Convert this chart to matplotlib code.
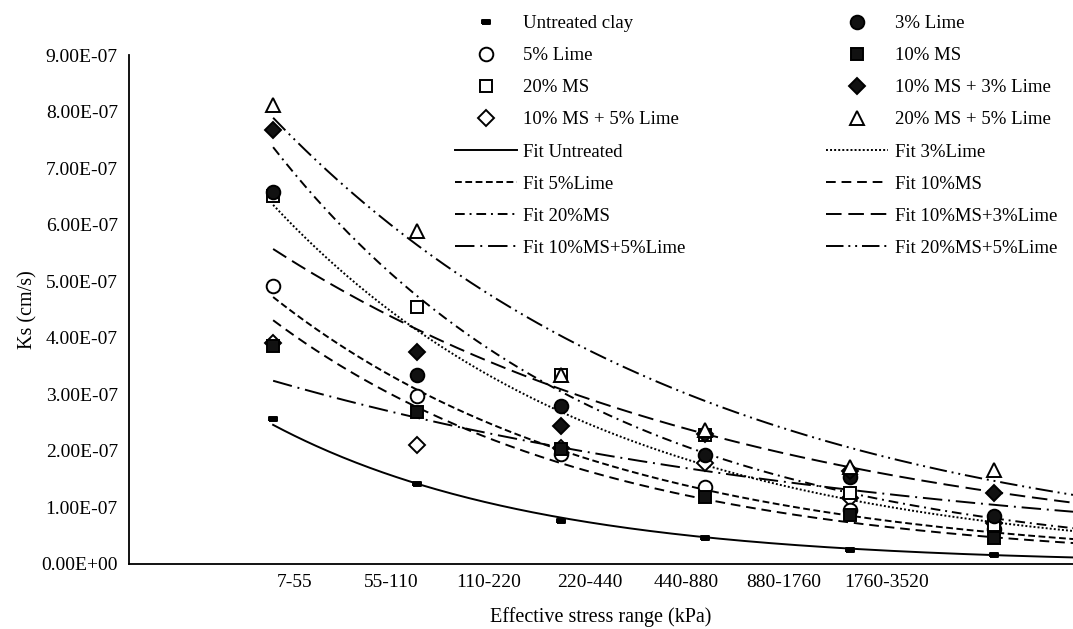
import numpy as np
import matplotlib
matplotlib.use("Agg")
from matplotlib import pyplot as plt
from matplotlib.ticker import FuncFormatter

# stage positions of the measured points (one per loading step)
x_pos = [1, 2, 3, 4, 5, 6]
stress_labels = ["7-55", "55-110", "110-220", "220-440", "440-880", "880-1760", "1760-3520"]

# measured Ks (cm/s)
ks_untreated = [2.56e-7, 1.41e-7, 0.76e-7, 0.46e-7, 0.25e-7, 0.16e-7]
ks_3lime = [6.58e-7, 3.34e-7, 2.79e-7, 1.93e-7, 1.54e-7, 0.85e-7]
ks_5lime = [4.92e-7, 2.97e-7, 1.95e-7, 1.36e-7, 0.95e-7, 0.62e-7]
ks_10ms = [3.85e-7, 2.69e-7, 2.03e-7, 1.18e-7, 0.87e-7, 0.46e-7]
ks_20ms = [6.50e-7, 4.54e-7, 3.34e-7, 2.28e-7, 1.26e-7, 0.69e-7]
ks_10ms_3lime = [7.67e-7, 3.75e-7, 2.44e-7, 2.30e-7, 1.65e-7, 1.26e-7]
ks_10ms_5lime = [3.90e-7, 2.10e-7, 2.05e-7, 1.79e-7, 1.17e-7, 0.72e-7]
ks_20ms_5lime = [8.12e-7, 5.89e-7, 3.34e-7, 2.37e-7, 1.72e-7, 1.66e-7]

# exponential fits Ks = a * exp(-b * (x - 1))
fit_a = [2.46e-7, 6.35e-7, 4.72e-7, 4.31e-7, 7.37e-7, 5.57e-7, 3.24e-7, 7.89e-7]
fit_b = [0.55, 0.43, 0.427, 0.442, 0.442, 0.295, 0.226, 0.336]
fit_names = ["Fit Untreated", "Fit 3%Lime", "Fit 5%Lime", "Fit 10%MS", "Fit 20%MS",
             "Fit 10%MS+3%Lime", "Fit 10%MS+5%Lime", "Fit 20%MS+5%Lime"]

plt.rcParams["font.family"] = ["Liberation Serif", "DejaVu Serif"]
plt.rcParams["font.size"] = 14

fig = plt.figure(figsize=(10.73, 6.29), dpi=100)
ax = fig.add_axes([129 / 1073, 65 / 629, 944 / 1073, 509 / 629])

XMAX = 6.55
rect = [(-1, -0.45), (1, -0.45), (1, 0.45), (-1, 0.45), (-1, -0.45)]

series = [
    ("Untreated clay", ks_untreated, dict(marker=rect, ms=5.5, mfc="black"), 5),
    ("3% Lime", ks_3lime, dict(marker="o", ms=9.8, mfc="#111111"), 6),
    ("5% Lime", ks_5lime, dict(marker="o", ms=9.8, mfc="white"), 5),
    ("10% MS", ks_10ms, dict(marker="s", ms=9.3, mfc="#111111"), 6),
    ("20% MS", ks_20ms, dict(marker="s", ms=9.3, mfc="white"), 5),
    ("10% MS + 3% Lime", ks_10ms_3lime, dict(marker="D", ms=8.3, mfc="#111111"), 6),
    ("10% MS + 5% Lime", ks_10ms_5lime, dict(marker="D", ms=8.3, mfc="white"), 4),
    ("20% MS + 5% Lime", ks_20ms_5lime, dict(marker="^", ms=10.3, mfc="white"), 7),
]

styles = [
    "-",
    (0, (1, 1.1)),
    (0, (3.5, 1.8)),
    (0, (5, 3)),
    (0, (5, 2.5, 1, 2.5)),
    (0, (8, 3.5)),
    (0, (10, 3, 1, 3)),
    (0, (9, 2.5, 1, 2.5, 1, 2.5)),
]

xs = np.linspace(1, XMAX, 300)
fit_handles = []
for name, a, b, ls in zip(fit_names, fit_a, fit_b, styles):
    h, = ax.plot(xs, a * np.exp(-b * (xs - 1)), color="black", lw=1.4,
                 linestyle=ls, label=name, zorder=2)
    fit_handles.append(h)

marker_handles = []
for name, vals, kw, z in series:
    h, = ax.plot(x_pos, vals, linestyle="none", mec="black", mew=1.4,
                 color="black", label=name, zorder=z, **kw)
    marker_handles.append(h)

ax.set_xlim(0, XMAX)
ax.set_ylim(0, 9e-7)
ax.set_yticks(np.arange(0, 9.5e-7, 1e-7))
ax.yaxis.set_major_formatter(FuncFormatter(lambda v, p: "{:.2E}".format(v)))

tick_x = [1.146, 1.819, 2.493, 3.194, 3.868, 4.542, 5.257]
ax.set_xticks(tick_x)
ax.set_xticklabels(stress_labels)
ax.tick_params(axis="both", length=0, labelsize=14)
ax.tick_params(axis="y", pad=8)
ax.tick_params(axis="x", pad=7)

for s in ["top", "right"]:
    ax.spines[s].set_visible(False)
for s in ["left", "bottom"]:
    ax.spines[s].set_linewidth(1.3)

ax.set_ylabel("Ks (cm/s)", fontsize=14.5, va="center")
ax.yaxis.set_label_coords(-0.107, 0.5)
ax.set_xlabel("Effective stress range (kPa)", fontsize=14.5, va="center")
ax.xaxis.set_label_coords(0.5, -0.104)

# legend is filled column by column, so order the entries to read row-wise
all_h = marker_handles + fit_handles
col1 = all_h[0::2]
col2 = all_h[1::2]
leg = ax.legend(col1 + col2, [h.get_label() for h in col1 + col2], ncol=2,
                loc="upper left", bbox_to_anchor=(455 / 1073, 1 - 15 / 629),
                bbox_transform=fig.transFigure, frameon=False, borderpad=0,
                borderaxespad=0, handlelength=3.3, handletextpad=0.35,
                columnspacing=7.5, labelspacing=0.8, numpoints=1, fontsize=13.5)

fig.savefig("out.png", dpi=100)
